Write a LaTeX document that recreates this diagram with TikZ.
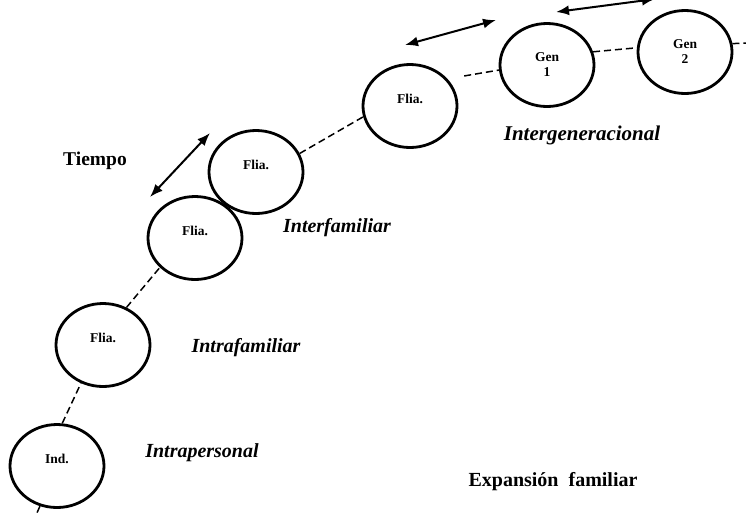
\documentclass[tikz,border=0pt]{standalone}
\usepackage{fontspec}
\setmainfont{Liberation Serif}
\usetikzlibrary{shapes.geometric, arrows.meta}

\begin{document}
\begin{tikzpicture}[x=1pt, y=-1pt, >={Latex[length=13pt, width=10pt]},
    unit/.style={ellipse, draw=black, line width=2.8pt, minimum width=94pt, minimum height=83pt, inner sep=0pt, align=center, font=\fontsize{13.5}{15}\selectfont\bfseries},
    lbl/.style={font=\fontsize{20}{22}\selectfont\bfseries\itshape},
    joint/.style={line width=1.5pt, dash pattern=on 7pt off 4pt},
    span/.style={<->, line width=2pt}]

    \useasboundingbox (0,0) rectangle (746,515);

    % Nodes
    \node[unit] (ind) at (57,466) {Ind.\\\mbox{}};
    \node[unit] (flia1) at (103,345) {Flia.\\\mbox{}};
    \node[unit] (flia2) at (195,238) {Flia.\\\mbox{}};
    \node[unit] (flia3) at (256,172) {Flia.\\\mbox{}};
    \node[unit] (flia4) at (410,106) {Flia.\\\mbox{}};
    \node[unit] (gen1) at (547,65) {Gen\\1};
    \node[unit] (gen2) at (685,52) {Gen\\2};

    % Loose ends
    \coordinate (tail) at (36,515);
    \coordinate (head) at (746,43);

    % Dashed line through the circles
    \draw[joint] (ind.247) -- (tail);
    \draw[joint] (ind.83) -- (flia1.240);
    \draw[joint] (flia1.58) -- (flia2.220);
    \draw[joint] (flia3.23) -- (flia4.193);
    \draw[joint, shorten <=17pt] (flia4.36) -- (gen1.186);
    \draw[joint] (gen1.16) -- (gen2.175);
    \draw[joint] (gen2.10) -- (head);

    % Time arrows
    \coordinate (a1) at (150,197);
    \coordinate (a2) at (210,133);
    \coordinate (b1) at (405,45);
    \coordinate (b2) at (496,20);
    \coordinate (c1) at (556,12);
    \coordinate (c2) at (655,-1);
    \draw[span] (a1) -- (a2);
    \draw[span] (b1) -- (b2);
    \draw[span] (c1) -- (c2);

    % Labels
    \node[font=\fontsize{19.5}{22}\selectfont\bfseries] (tiempo) at (95,161) {Tiempo};
    \node[lbl] (inter) at (337,228) {Interfamiliar};
    \node[lbl] (intra) at (246,348) {Intrafamiliar};
    \node[lbl] (pers) at (202,453) {Intrapersonal};
    \node[lbl, font=\fontsize{21}{22}\selectfont\bfseries\itshape] (igen) at (582,135) {Intergeneracional};
    \node[font=\fontsize{20}{22}\selectfont\bfseries] (expan) at (553,482) {Expansión\ \ familiar};

\end{tikzpicture}
\end{document}
